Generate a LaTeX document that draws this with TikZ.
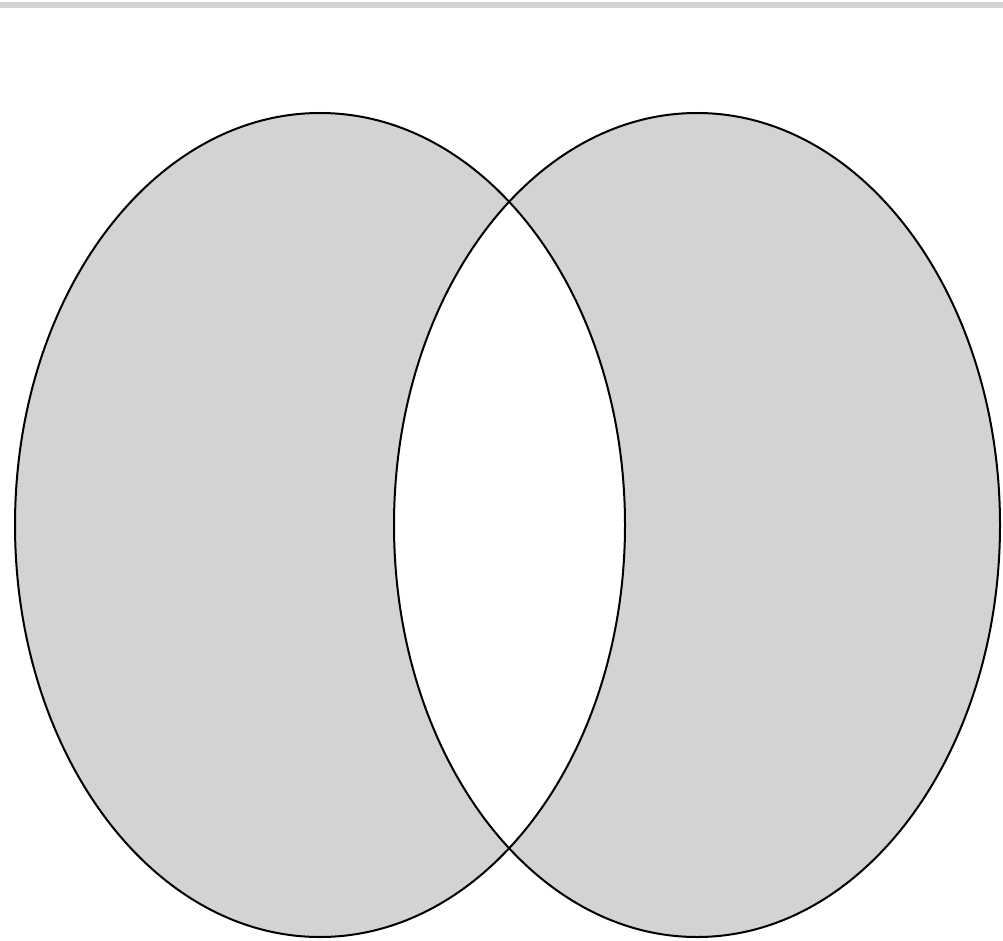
\documentclass[tikz,border=0pt]{standalone}
\definecolor{vgray}{RGB}{211,211,211}
\tikzset{setfill/.style={fill=vgray,even odd rule}, setline/.style={draw=black,line width=2pt}}
\begin{document}
\begin{tikzpicture}[x=1pt,y=-1pt]
\useasboundingbox (0,0) rectangle (1003,941);
\fill[vgray] (0,2) rectangle (1003,8);
\path[setfill] (320,525) ellipse [x radius=305, y radius=412] (697,525) ellipse [x radius=303, y radius=412];
\draw[setline] (320,525) ellipse [x radius=305, y radius=412];
\draw[setline] (697,525) ellipse [x radius=303, y radius=412];
\end{tikzpicture}
\end{document}
